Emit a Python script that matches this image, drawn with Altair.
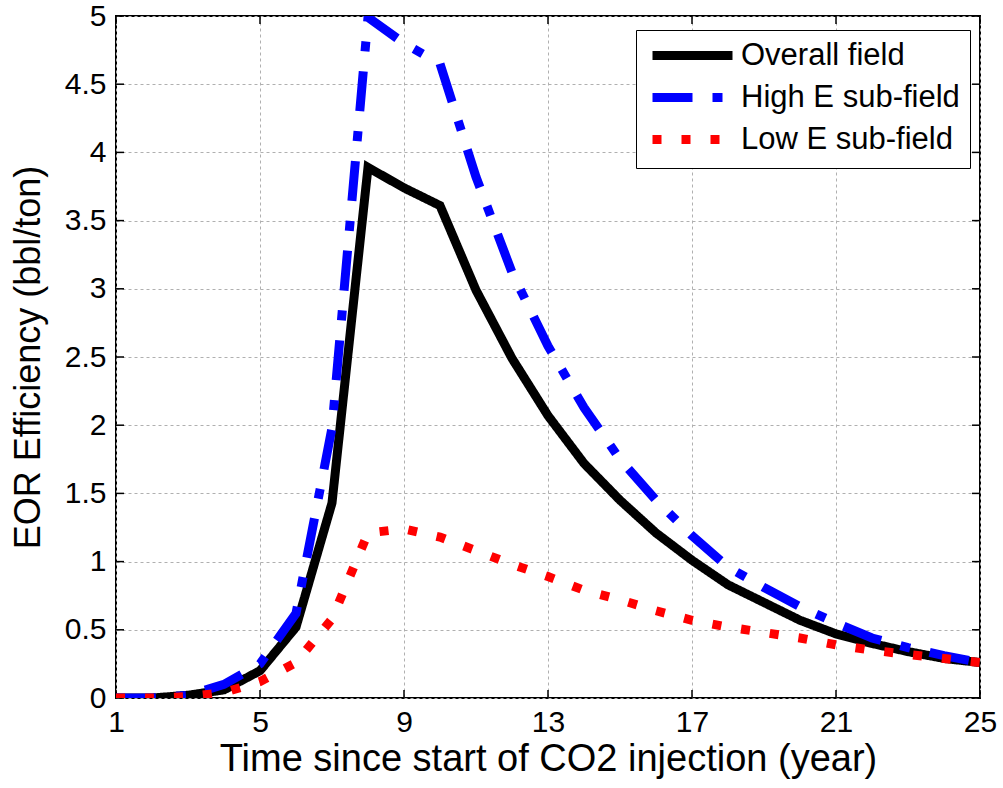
import altair as alt
import pandas as pd

years = list(range(1, 26))
overall = [0, 0, 0.02, 0.06, 0.20, 0.52, 1.43, 3.89, 3.74, 3.61, 2.99, 2.49, 2.07,
           1.72, 1.45, 1.21, 1.01, 0.83, 0.70, 0.57, 0.47, 0.40, 0.34, 0.29, 0.26]
high = [0, 0, 0.02, 0.10, 0.25, 0.62, 1.98, 4.99, 4.80, 4.65, 3.82, 3.12, 2.58,
        2.13, 1.75, 1.45, 1.19, 0.96, 0.81, 0.67, 0.55, 0.44, 0.37, 0.31, 0.26]
low = [0, 0, 0.01, 0.04, 0.12, 0.26, 0.58, 1.21, 1.24, 1.18, 1.08, 0.98, 0.89,
       0.79, 0.72, 0.64, 0.57, 0.52, 0.48, 0.44, 0.39, 0.35, 0.32, 0.29, 0.26]
series_names = ["Overall field", "High E sub-field", "Low E sub-field"]
x_ticks = [1, 5, 9, 13, 17, 21, 25]
y_ticks = [0, 0.5, 1, 1.5, 2, 2.5, 3, 3.5, 4, 4.5, 5]

rows = []
for name, vals in zip(series_names, [overall, high, low]):
    for yr, v in zip(years, vals):
        rows.append({"year": yr, "value": v, "series": name})
df = pd.DataFrame(rows)

W, H = 864, 682
FONT = "Liberation Sans"

x_axis = alt.Axis(values=x_ticks, title="Time since start of CO2 injection (year)",
                  ticks=False, domain=False, grid=True, gridDash=[3, 3],
                  gridColor="#b0b0b0", gridWidth=1, labelFont=FONT, labelFontSize=30,
                  labelColor="black", labelPadding=9, titleFont=FONT,
                  titleFontSize=38, titleFontWeight="normal", titleColor="black",
                  titlePadding=3, labelFlush=False)
y_axis = alt.Axis(values=y_ticks, format=".1~f", title="EOR Efficiency (bbl/ton)",
                  ticks=False, domain=False, grid=True, gridDash=[3, 3],
                  gridColor="#b0b0b0", gridWidth=1, labelFont=FONT, labelFontSize=30,
                  labelColor="black", labelPadding=10, titleFont=FONT,
                  titleFontSize=36, titleFontWeight="normal", titleColor="black",
                  titlePadding=17)

x_enc = alt.X("year:Q", scale=alt.Scale(domain=[1, 25], nice=False, zero=False), axis=x_axis)
y_enc = alt.Y("value:Q", scale=alt.Scale(domain=[0, 5], nice=False), axis=y_axis)

legend = alt.Legend(title=None, orient="none", legendX=520, legendY=14,
                    symbolType="M-4,0H4", symbolSize=400, symbolStrokeWidth=9,
                    symbolOffset=31, labelFont=FONT, labelFontSize=31,
                    labelColor="black", labelLimit=500, strokeColor="black",
                    fillColor="white", padding=10, labelOffset=33, rowPadding=5)
color = alt.Color("series:N", scale=alt.Scale(domain=series_names,
                  range=["#000000", "#0000ff", "#ff0000"]), legend=legend)
dash = alt.StrokeDash("series:N", scale=alt.Scale(domain=series_names,
                      range=[[1, 0], [40, 20, 10, 20], [9, 20]]), legend=legend)

line_layers = []
for name in series_names:
    line_layers.append(
        alt.Chart(df).transform_filter(alt.datum.series == name)
        .mark_line(strokeWidth=9, clip=True, strokeCap="butt", strokeJoin="miter")
        .encode(x=x_enc, y=y_enc, color=color, strokeDash=dash)
    )

xt = pd.DataFrame({"year": x_ticks})
yt = pd.DataFrame({"value": y_ticks})
tick_style = dict(color="black", strokeWidth=1.5)
ticks = [
    alt.Chart(xt).mark_rule(**tick_style).encode(x=x_enc, y=alt.value(H), y2=alt.value(H - 8)),
    alt.Chart(xt).mark_rule(**tick_style).encode(x=x_enc, y=alt.value(0), y2=alt.value(8)),
    alt.Chart(yt).mark_rule(**tick_style).encode(y=y_enc, x=alt.value(0), x2=alt.value(8)),
    alt.Chart(yt).mark_rule(**tick_style).encode(y=y_enc, x=alt.value(W), x2=alt.value(W - 8)),
]

chart = alt.layer(*ticks, *line_layers).properties(
    width=W, height=H,
    autosize=alt.AutoSizeParams(type="none"),
    padding={"left": 116, "top": 16, "right": 23, "bottom": 90},
    background="white",
).configure_view(stroke="black", strokeWidth=2)

chart.save("out.html", embed_options={"renderer": "svg", "actions": False})
